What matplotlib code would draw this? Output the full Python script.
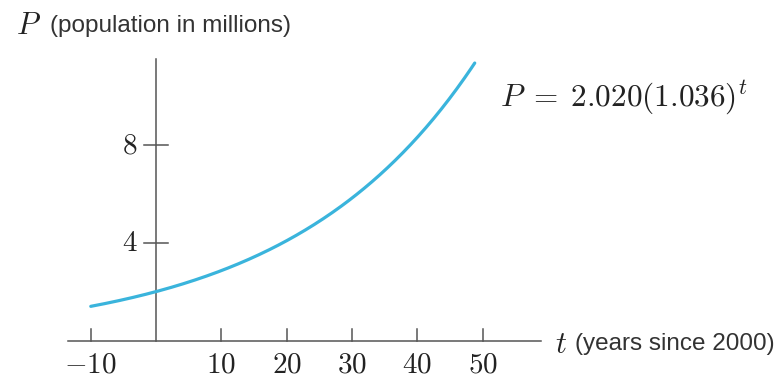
import numpy as np
import matplotlib.pyplot as plt

plt.rcParams['mathtext.fontset'] = 'cm'

# Model P = a * b^t
a = 2.020
b = 1.036
t_start = -10
t_end = 48.8

x_ticks = [-10, 10, 20, 30, 40, 50]
x_tick_labels = ['$-10$', '$10$', '$20$', '$30$', '$40$', '$50$']
y_ticks = [4, 8]
y_tick_labels = ['$4$', '$8$']


def main():
    fig = plt.figure(figsize=(7.81, 3.83), dpi=100)
    ax = fig.add_axes([0, 0, 1, 1])
    ax.set_xlim(-23.9, 95.7)
    ax.set_ylim(-1.71, 13.92)
    ax.axis('off')

    axis_color = '#555555'
    text_color = '#222222'
    # Axes lines
    ax.plot([-13.5, 59.0], [0, 0], color=axis_color, lw=1.1)
    ax.plot([0, 0], [0, 11.5], color=axis_color, lw=1.1)

    # Ticks drawn in data units
    for x, lab in zip(x_ticks, x_tick_labels):
        ax.plot([x, x], [0, 0.5], color=axis_color, lw=1.1)
        ax.text(x, -0.95, lab, ha='center', va='center', fontsize=21,
                color=text_color)
    for y, lab in zip(y_ticks, y_tick_labels):
        ax.plot([-1.9, 1.9], [y, y], color=axis_color, lw=1.1)
        ax.text(-2.8, y, lab, ha='right', va='center', fontsize=21,
                color=text_color)

    # Curve
    t = np.linspace(t_start, t_end, 300)
    p = a * b ** t
    ax.plot(t, p, color='#3ab4dc', lw=2.3, solid_capstyle='round')

    # Axis labels
    ax.text(-21.4, 12.86, '$P$', ha='left', va='center', fontsize=22,
            color=text_color)
    ax.text(-16.3, 12.86, '(population in millions)', ha='left',
            va='center', fontsize=17.5, color='#333333',
            family='Liberation Sans')
    ax.text(61.1, -0.12, '$t$', ha='left', va='center', fontsize=22,
            color=text_color)
    ax.text(64.2, -0.12, '(years since 2000)', ha='left', va='center',
            fontsize=17.5, color='#333333', family='Liberation Sans')

    # Equation of the curve
    ax.text(52.7, 9.95, r'$P\;{=}\;2.020(1.036)^t$', ha='left',
            va='center', fontsize=22.5, color=text_color)

    fig.savefig('out.png', dpi=100)


if __name__ == '__main__':
    main()
